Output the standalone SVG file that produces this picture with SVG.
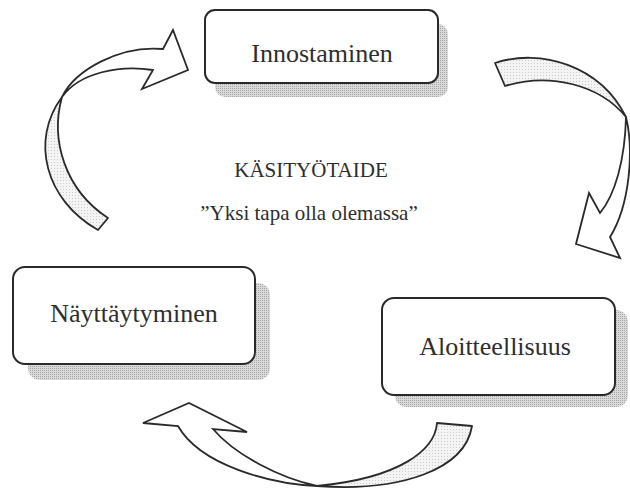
<svg xmlns="http://www.w3.org/2000/svg" width="630" height="488" viewBox="0 0 630 488">
  <defs>
    <pattern id="dots" width="2" height="2" patternUnits="userSpaceOnUse">
      <rect width="2" height="2" fill="#dadada"/>
      <rect width="1" height="1" fill="#a6a6a6"/>
    </pattern>
    <pattern id="lightdots" width="3" height="3" patternUnits="userSpaceOnUse">
      <rect width="3" height="3" fill="#f4f4f4"/>
      <rect width="1" height="1" fill="#cccccc"/>
    </pattern>
  </defs>
  <style>
    .box { fill: #ffffff; stroke: #2a2a2a; stroke-width: 2; }
    .shadow { fill: url(#dots); stroke: none; }
    .lbl { font-size: 26px; fill: #2e2e2e; text-anchor: middle; }
    .center { fill: #2e2e2e; text-anchor: middle; }
    .back { fill: url(#lightdots); stroke: #2a2a2a; stroke-width: 1.8; stroke-linejoin: round; }
    .front { fill: #ffffff; stroke: #2a2a2a; stroke-width: 1.8; stroke-linejoin: miter; }
  </style>
  <rect width="630" height="488" fill="#ffffff"/>

  <g id="connectors">
    <g id="arrow-topleft">
      <path class="back" d="M98,230 C45,200 30,140 62,97 C50,140 65,190 108,218 Z"/>
      <path class="front" d="M62,97 C75,70 120,45 163,49 L173,30 L188,70 L142,89 L153,70 C120,65 80,72 62,97 Z"/>
    </g>
    <g id="arrow-topright">
      <path class="back" d="M495,63 C540,48 600,65 626,117 C600,85 550,72 505,86 Z"/>
      <path class="front" d="M626,117 C634,150 630,205 610,237 L620,258 L576,244 L589,193 L600,213 C615,195 625,160 626,117 Z"/>
    </g>
    <g id="arrow-bottom">
      <path class="back" d="M437,423 C435,450 400,478 317,486 C400,492 465,470 472,426 Z"/>
      <path class="front" d="M317,486 C270,484 200,465 178,426 L143,423 L189,403 L247,432 L213,429 C235,455 280,478 317,486 Z"/>
    </g>
  </g>

  <g id="node-innostaminen">
    <rect class="shadow" x="215" y="24" width="233" height="73" rx="10"/>
    <rect class="box" x="205" y="10" width="233" height="73" rx="10"/>
    <text class="lbl" x="322" y="62" font-family="'Liberation Serif', 'Times New Roman', 'DejaVu Serif', serif">Innostaminen</text>
  </g>

  <g id="node-nayttaytyminen">
    <rect class="shadow" x="28" y="283" width="242" height="97" rx="12"/>
    <rect class="box" x="13" y="267" width="242" height="97" rx="12"/>
    <text class="lbl" x="134" y="322" font-family="'Liberation Serif', 'Times New Roman', 'DejaVu Serif', serif">Näyttäytyminen</text>
  </g>

  <g id="node-aloitteellisuus">
    <rect class="shadow" x="395" y="310" width="233" height="97" rx="12"/>
    <rect class="box" x="382" y="298" width="233" height="97" rx="12"/>
    <text class="lbl" x="495" y="355" font-family="'Liberation Serif', 'Times New Roman', 'DejaVu Serif', serif">Aloitteellisuus</text>
  </g>

  <g id="title">
    <text class="center" x="311" y="177" font-size="21" font-family="'Liberation Serif', 'Times New Roman', 'DejaVu Serif', serif">KÄSITYÖTAIDE</text>
    <text class="center" x="309" y="220" font-size="21" font-family="'Liberation Serif', 'Times New Roman', 'DejaVu Serif', serif">”Yksi tapa olla olemassa”</text>
  </g>
</svg>
